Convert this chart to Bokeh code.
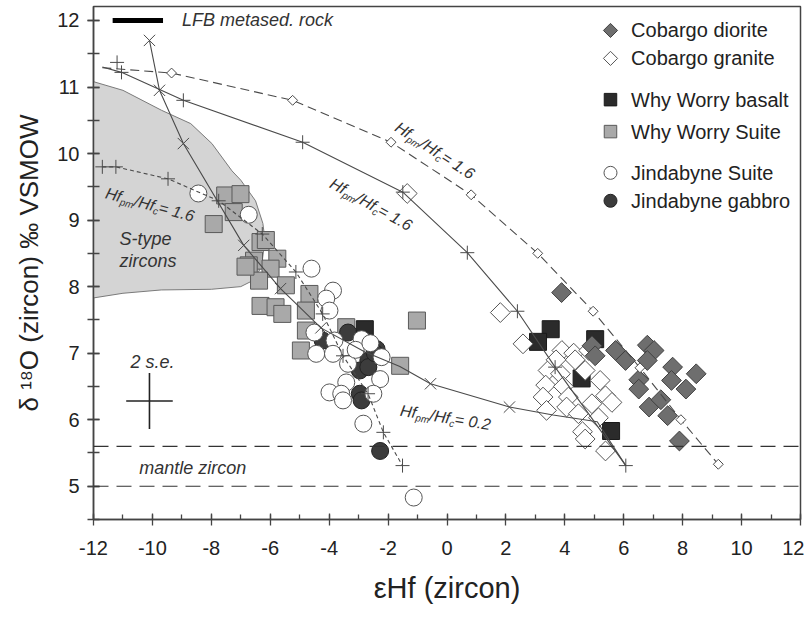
import math
from bokeh.plotting import figure
from bokeh.models import Range1d, SingleIntervalTicker, Label, Span, PrintfTickFormatter
from bokeh.embed import file_html
from bokeh.resources import INLINE

FONT = "Liberation Sans"

# ---------------- data ----------------
# Cobargo diorite (grey filled diamonds)
cd_x = [3.89, 4.92, 5.03, 5.72, 6.06, 6.80, 7.03, 6.80, 6.51, 6.51, 7.66, 8.46, 7.62, 8.11, 6.86, 7.26, 7.49, 7.89]
cd_y = [7.91, 7.11, 6.96, 7.04, 6.89, 7.12, 7.04, 6.89, 6.60, 6.46, 6.79, 6.69, 6.59, 6.46, 6.19, 6.30, 6.06, 5.68]
# Cobargo granite (open diamonds)
cg_x = [-1.35, 1.81, 2.58, 3.90, 4.30, 4.81, 3.43, 3.85, 4.69, 4.35, 3.35, 3.95, 5.20, 3.26, 4.12, 5.38,
        3.38, 4.06, 4.46, 4.92, 5.14, 5.60, 4.60, 4.69, 5.38, 3.70]
cg_y = [9.40, 7.61, 7.14, 7.04, 7.00, 7.04, 6.74, 6.69, 6.74, 6.90, 6.52, 6.50, 6.59, 6.34, 6.34, 6.36,
        6.14, 6.19, 6.09, 6.24, 6.03, 6.26, 5.82, 5.71, 5.53, 6.90]
# Why Worry basalt (black squares)
wb_x = [-2.79, 3.52, 3.09, 5.03, 4.57, 5.57]
wb_y = [7.36, 7.36, 7.17, 7.21, 6.62, 5.83]
# Why Worry Suite (grey squares)
ws_x = [-7.53, -7.01, -7.24, -7.92, -6.33, -6.15, -6.55, -6.73, -5.76, -5.99, -6.38, -5.47, -6.33, -5.82,
        -5.59, -4.67, -4.79, -4.79, -3.42, -4.96, -1.02, -1.59, -6.84]
ws_y = [9.37, 9.39, 9.12, 8.94, 8.67, 8.70, 8.39, 8.32, 8.42, 8.27, 8.09, 8.02, 7.71, 7.69,
        7.59, 7.89, 7.64, 7.34, 7.39, 7.04, 7.49, 6.81, 8.30]
# Jindabyne Suite (open circles)
js_x = [-8.44, -6.73, -4.60, -3.87, -4.10, -3.99, -4.50, -3.82, -4.44, -3.87, -2.90, -3.36, -2.22, -2.27,
        -3.42, -3.99, -3.59, -3.53, -2.50, -2.84, -1.13, -3.10, -2.60]
js_y = [9.40, 9.08, 8.27, 7.94, 7.82, 7.64, 7.31, 7.19, 6.99, 6.99, 7.21, 6.84, 6.94, 6.61,
        6.56, 6.41, 6.39, 6.29, 6.39, 5.94, 4.83, 7.05, 7.15]
# Jindabyne gabbro (dark circles)
jg_x = [-4.22, -3.36, -2.39, -2.67, -2.96, -2.67, -2.96, -2.90, -2.27, -2.45]
jg_y = [7.19, 7.31, 7.06, 6.89, 6.74, 6.79, 6.39, 6.29, 5.53, 7.00]

# mixing curves
dash_x = [-11.70, -9.35, -5.24, -1.90, 0.82, 3.08, 4.96, 6.55, 7.94, 9.21]
dash_y = [11.29, 11.21, 10.80, 10.17, 9.38, 8.50, 7.63, 6.78, 6.00, 5.33]
sol_x = [-11.70, -11.05, -8.95, -4.90, -1.50, 0.69, 2.39, 3.67, 6.07]
sol_y = [11.30, 11.22, 10.80, 10.17, 9.42, 8.51, 7.63, 6.79, 5.31]
sol_px = [-11.20, -11.05, -8.95, -4.90, -1.50, 0.69, 2.39, 3.67, 6.07]
sol_py = [11.37, 11.22, 10.80, 10.17, 9.42, 8.51, 7.63, 6.79, 5.31]
c02_x = [-10.10, -9.76, -8.95, -6.90, -5.65, -4.28, -2.80, -1.60, -0.56, 2.12, 3.60, 5.10, 6.07]
c02_y = [11.70, 10.95, 10.15, 8.62, 7.97, 7.38, 7.02, 6.80, 6.54, 6.19, 6.07, 5.97, 5.31]
c02_mx = [-10.10, -9.76, -8.95, -6.90, -5.65, -4.28, -0.56, 2.12]
c02_my = [11.70, 10.95, 10.15, 8.62, 7.97, 7.38, 6.54, 6.19]
dot_x = [-11.70, -11.24, -9.47, -7.75, -6.27, -5.13, -4.22, -3.53, -2.68, -2.16, -1.51]
dot_y = [9.80, 9.80, 9.62, 9.29, 8.79, 8.22, 7.59, 6.96, 6.39, 5.81, 5.31]

# S-type zircon field
st_x = [-12.0, -11.0, -9.69, -8.70, -7.98, -7.30, -7.00, -6.50, -6.25, -6.18, -6.30, -6.55, -7.00, -8.00, -9.70, -11.0, -12.0]
st_y = [11.08, 10.95, 10.65, 10.45, 10.15, 9.74, 9.60, 9.29, 8.95, 8.70, 8.30, 8.10, 8.00, 7.96, 7.95, 7.90, 7.83]

# mantle zircon band, LFB bar, error cross
mantle = [5.0, 5.6]
lfb_x = [-11.35, -9.64]
lfb_y = 12.0
se_x, se_y, se_dx, se_dy = -10.1, 6.28, 0.79, 0.42

# legend entries (label, marker, angle, size, fill, line)
legend_labels = ["Cobargo diorite", "Cobargo granite", "Why Worry basalt", "Why Worry Suite",
                 "Jindabyne Suite", "Jindabyne gabbro"]
legend_rows = [11.85, 11.43, 10.81, 10.33, 9.71, 9.29]
legend_sym_x = 5.55
legend_txt_x = 6.25

# ---------------- figure ----------------
p = figure(width=804, height=610, x_range=Range1d(-12, 12), y_range=Range1d(4.5, 12.21),
           output_backend="svg", toolbar_location=None, title=None,
           min_border_left=93, min_border_right=4, min_border_top=6, min_border_bottom=91)
p.background_fill_color = "white"
p.border_fill_color = "white"
p.outline_line_color = "#444444"
p.outline_line_width = 1.5
p.grid.visible = False

p.xaxis.ticker = SingleIntervalTicker(interval=2, num_minor_ticks=2)
p.yaxis.ticker = SingleIntervalTicker(interval=1, num_minor_ticks=2)
for ax in (p.xaxis[0], p.yaxis[0]):
    ax.formatter = PrintfTickFormatter(format="%d")
    ax.axis_line_color = "#444444"
    ax.axis_line_width = 1.5
    ax.major_tick_line_color = "#444444"
    ax.minor_tick_line_color = "#444444"
    ax.major_tick_line_width = 1.3
    ax.minor_tick_line_width = 1.3
    ax.major_tick_in = 6
    ax.major_tick_out = 6
    ax.major_label_text_font = FONT
    ax.major_label_text_font_size = "20px"
    ax.major_label_text_color = "#222222"
    ax.axis_label_text_font = FONT
    ax.axis_label_text_font_style = "normal"
    ax.axis_label_text_color = "#222222"
p.xaxis.minor_tick_in = 5
p.xaxis.minor_tick_out = 0
p.yaxis.minor_tick_in = 6
p.yaxis.minor_tick_out = 6
p.xaxis.major_label_standoff = 15
p.yaxis.major_label_standoff = 8
p.xaxis.axis_label = "εHf (zircon)"
p.yaxis.axis_label = "δ ¹⁸O (zircon) ‰ VSMOW"
p.xaxis.axis_label_text_font_size = "29px"
p.yaxis.axis_label_text_font_size = "26px"
p.xaxis.axis_label_standoff = 14
p.yaxis.axis_label_standoff = 10

# S-type field
p.patch(st_x, st_y, fill_color="#d4d4d4", line_color="#7a7a7a", line_width=1)

# mantle lines
for m in mantle:
    p.add_layout(Span(location=m, dimension="width", line_color="#333333", line_width=1.2, line_dash="15 8"))

# styles
ST = {
    "Why Worry Suite": dict(marker="square", angle=0.0, fill_color="#a9a9a9", line_color="#5a5a5a"),
    "Why Worry basalt": dict(marker="square", angle=0.0, fill_color="#2b2b2b", line_color="#1a1a1a"),
    "Jindabyne gabbro": dict(marker="circle", angle=0.0, fill_color="#3c3c3c", line_color="#222222"),
    "Jindabyne Suite": dict(marker="circle", angle=0.0, fill_color="white", line_color="#555555"),
    "Cobargo granite": dict(marker="square", angle=math.pi / 4, fill_color="white", line_color="#555555"),
    "Cobargo diorite": dict(marker="square", angle=math.pi / 4, fill_color="#6e6e6e", line_color="#404040"),
}
SIZE = {"square": 17, "circle": 17}
LSIZE = {"square": 12.5, "circle": 13}

series = [("Why Worry Suite", ws_x, ws_y), ("Why Worry basalt", wb_x, wb_y), ("Jindabyne gabbro", jg_x, jg_y),
          ("Jindabyne Suite", js_x, js_y), ("Cobargo granite", cg_x, cg_y), ("Cobargo diorite", cd_x, cd_y)]
for name, xs, ys in series:
    s = ST[name]
    sz = 14 if s["angle"] else SIZE[s["marker"]]
    p.scatter(xs, ys, size=sz, line_width=1, **s)

# mixing curves
CURVE = "#4a4a4a"
p.line(dot_x, dot_y, line_color=CURVE, line_width=1.1, line_dash="4 3")
p.scatter(dot_x, dot_y, marker="cross", size=14, line_color=CURVE, line_width=1)
p.line(dash_x, dash_y, line_color=CURVE, line_width=1.1, line_dash="9 5")
p.scatter(dash_x[1:], dash_y[1:], marker="square", angle=math.pi / 4, size=7, fill_color="white", line_color=CURVE, line_width=1)
p.line(sol_x, sol_y, line_color=CURVE, line_width=1.1)
p.scatter(sol_px, sol_py, marker="cross", size=14, line_color=CURVE, line_width=1)
p.line(c02_x, c02_y, line_color=CURVE, line_width=1.1)
p.scatter(c02_mx, c02_my, marker="x", size=16, line_color=CURVE, line_width=1)

# LFB bar and 2 s.e. cross
p.line(lfb_x, [lfb_y, lfb_y], line_color="black", line_width=5)
p.segment(x0=[se_x - se_dx, se_x], y0=[se_y, se_y - se_dy], x1=[se_x + se_dx, se_x], y1=[se_y, se_y + se_dy],
          line_color="#222222", line_width=1.6)

# legend (manual, three groups)
for lab, ly in zip(legend_labels, legend_rows):
    s = ST[lab]
    sz = 10 if s["angle"] else LSIZE[s["marker"]]
    p.scatter([legend_sym_x], [ly], size=sz, line_width=1, **s)
    p.add_layout(Label(x=legend_txt_x, y=ly, text=lab, text_font=FONT, text_font_size="20px",
                       text_color="#222222", text_align="left", text_baseline="middle"))

# text annotations
def note(x, y, txt, align="left", size="18px"):
    p.add_layout(Label(x=x, y=y, text=txt, text_font=FONT, text_font_size=size, text_font_style="italic",
                       text_color="#333333", text_align=align, text_baseline="middle"))

note(-9.0, 12.0, "LFB metased. rock")
note(-11.12, 8.72, "S-type")
note(-11.12, 8.39, "zircons")
note(-10.0, 6.86, "2 s.e.", align="center")
note(-10.45, 5.28, "mantle zircon")

CW = {'H': 0.722, 'f': 0.278, 'p': 0.556, 'm': 0.833, '/': 0.278, 'c': 0.5, ' ': 0.278,
      '=': 0.584, '1': 0.556, '.': 0.278, '6': 0.556, '0': 0.556, '2': 0.556}


def hf_label(x0, y0, ang_deg, val, size=16):
    a = math.radians(ang_deg)
    sub = size * 0.62
    pieces = [("Hf", size, 0.0), ("pm", sub, -0.3 * size), ("/Hf", size, 0.0), ("c", sub, -0.3 * size),
              (" = " + val, size, 0.0)]
    d = 0.0
    for txt, fs, e in pieces:
        xo = d * math.cos(a) - e * math.sin(a)
        yo = d * math.sin(a) + e * math.cos(a)
        p.add_layout(Label(x=x0, y=y0, x_offset=xo, y_offset=yo, text=txt, angle=a,
                           text_font=FONT, text_font_size=f"{fs:.1f}px", text_font_style="italic",
                           text_color="#333333", text_align="left", text_baseline="alphabetic"))
        d += sum(CW.get(ch, 0.55) for ch in txt) * fs


hf_label(-1.71, 10.42, -33, "1.6")
hf_label(-3.93, 9.57, -29, "1.6")
hf_label(-11.58, 9.41, -15, "1.6")
hf_label(-1.58, 6.14, -9, "0.2")

open("out.html", "w").write(file_html(p, INLINE))
